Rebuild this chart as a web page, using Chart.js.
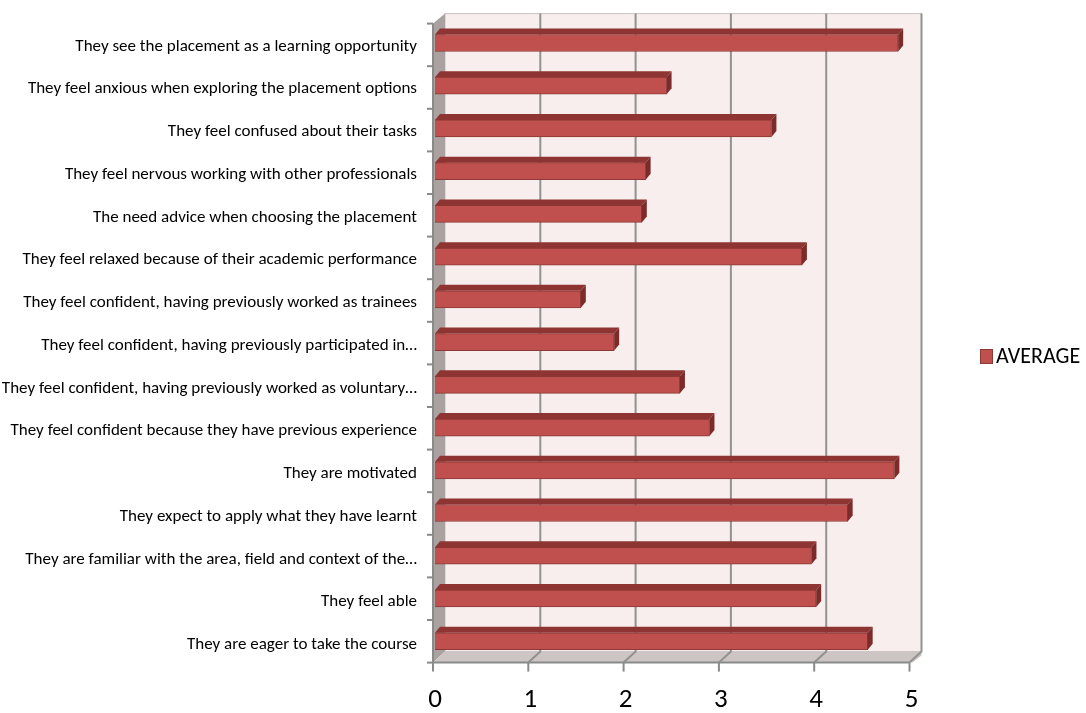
<!DOCTYPE html>
<html>
<head>
<meta charset="utf-8">
<script src="https://cdn.jsdelivr.net/npm/chart.js@4.4.0/dist/chart.umd.min.js"></script>
<style>
  html, body { margin: 0; padding: 0; background: #ffffff; }
  #wrap { width: 1086px; height: 713px; position: relative; }
</style>
</head>
<body>
<div id="wrap"><canvas id="c" width="1086" height="713"></canvas></div>
<script>
const categories = [
  "They see the placement as a learning opportunity",
  "They feel anxious when exploring the placement options",
  "They feel confused about their tasks",
  "They feel nervous working with other professionals",
  "The need advice when choosing the placement",
  "They feel relaxed because of their academic performance",
  "They feel confident, having previously worked as trainees",
  "They feel confident, having previously participated in…",
  "They feel confident, having previously worked as voluntary…",
  "They feel confident because they have previous experience",
  "They are motivated",
  "They expect to apply what they have learnt",
  "They are familiar with the area, field and context of the…",
  "They feel able",
  "They are eager to take the course"
];
const averageValues = [4.86, 2.43, 3.53, 2.21, 2.17, 3.85, 1.53, 1.88, 2.57, 2.88, 4.82, 4.33, 3.95, 4.00, 4.54];
const xTicks = [0, 1, 2, 3, 4, 5];
const seriesLabel = "AVERAGE";

const FONT = "Carlito, 'Liberation Sans', sans-serif";

const threeD = {
  id: 'threeD',
  beforeDatasetsDraw(chart) {
    const ctx = chart.ctx;
    const xs = chart.scales.x;
    const top = chart.chartArea.top, bottom = chart.chartArea.bottom;
    const front = v => xs.getPixelForValue(v) - 2;
    const back = v => front(v) + 12;
    const bTop = top - 8, bBot = bottom - 11;
    const minV = xTicks[0], maxV = xTicks[xTicks.length - 1];
    ctx.save();
    ctx.fillStyle = '#f7eeed';
    ctx.fillRect(back(minV), bTop, back(maxV) - back(minV), bBot - bTop);
    ctx.strokeStyle = '#c9c1c0';
    ctx.lineWidth = 1;
    ctx.strokeRect(back(minV), bTop, back(maxV) - back(minV), bBot - bTop);
    ctx.fillStyle = '#aaa2a0';
    ctx.beginPath();
    ctx.moveTo(front(minV), top + 2);
    ctx.lineTo(back(minV), bTop);
    ctx.lineTo(back(minV), bBot);
    ctx.lineTo(front(minV), bottom);
    ctx.closePath();
    ctx.fill();
    ctx.fillStyle = '#cdc5c4';
    ctx.beginPath();
    ctx.moveTo(front(minV), bottom);
    ctx.lineTo(back(minV), bBot);
    ctx.lineTo(back(maxV), bBot);
    ctx.lineTo(back(maxV), bBot + 4);
    ctx.lineTo(front(maxV) + 3, bottom);
    ctx.closePath();
    ctx.fill();
    ctx.strokeStyle = '#929292';
    ctx.lineWidth = 2;
    xTicks.forEach(v => {
      if (v === minV) return;
      ctx.beginPath();
      ctx.moveTo(back(v), bTop);
      ctx.lineTo(back(v), bBot);
      ctx.lineTo(front(v), bottom);
      ctx.stroke();
    });
    ctx.strokeStyle = '#8a8a8a';
    ctx.lineWidth = 2;
    ctx.beginPath();
    ctx.moveTo(front(minV), bottom);
    ctx.lineTo(front(maxV), bottom);
    ctx.stroke();
    xTicks.forEach(v => {
      ctx.beginPath();
      ctx.moveTo(front(v), bottom);
      ctx.lineTo(front(v), bottom + 9);
      ctx.stroke();
    });
    ctx.beginPath();
    ctx.moveTo(front(minV), top + 2);
    ctx.lineTo(front(minV), bottom);
    ctx.stroke();
    const n = categories.length;
    for (let i = 0; i <= n; i++) {
      const y = top + 2 + i * (bottom - top - 2) / n;
      ctx.beginPath();
      ctx.moveTo(front(minV) - 6, y);
      ctx.lineTo(front(minV), y);
      ctx.stroke();
    }
    ctx.restore();
  },
  afterDatasetsDraw(chart) {
    const ctx = chart.ctx;
    const meta = chart.getDatasetMeta(0);
    const dx = 5, dy = 6;
    ctx.save();
    meta.data.forEach(bar => {
      const p = bar.getProps(['x', 'y', 'base', 'height'], true);
      const t = p.y - p.height / 2, b = p.y + p.height / 2;
      ctx.fillStyle = '#8e3432';
      ctx.beginPath();
      ctx.moveTo(p.base, t);
      ctx.lineTo(p.base + dx, t - dy);
      ctx.lineTo(p.x + dx, t - dy);
      ctx.lineTo(p.x, t);
      ctx.closePath();
      ctx.fill();
      ctx.fillStyle = '#7b2b29';
      ctx.beginPath();
      ctx.moveTo(p.x, t);
      ctx.lineTo(p.x + dx, t - dy);
      ctx.lineTo(p.x + dx, b - dy);
      ctx.lineTo(p.x, b);
      ctx.closePath();
      ctx.fill();
    });
    ctx.restore();
  },
  afterDraw(chart) {
    const ctx = chart.ctx;
    ctx.save();
    ctx.fillStyle = '#c0504d';
    ctx.strokeStyle = '#8c3836';
    ctx.lineWidth = 1;
    ctx.fillRect(980, 349, 13, 15);
    ctx.strokeRect(980.5, 349.5, 12, 14);
    ctx.fillStyle = '#000000';
    ctx.font = "22px " + FONT;
    ctx.textBaseline = 'middle';
    ctx.textAlign = 'left';
    ctx.fillText(seriesLabel, 996, 357);
    ctx.restore();
  }
};

new Chart(document.getElementById('c'), {
  type: 'bar',
  data: {
    labels: categories,
    datasets: [{
      label: seriesLabel,
      data: averageValues,
      backgroundColor: '#c0504d',
      borderColor: '#8c3836',
      borderWidth: 1,
      barThickness: 17
    }]
  },
  options: {
    indexAxis: 'y',
    responsive: false,
    animation: false,
    devicePixelRatio: 1,
    layout: { padding: { top: 21.6, right: 174.5, left: 0, bottom: 0 } },
    plugins: { legend: { display: false }, tooltip: { enabled: false } },
    scales: {
      x: {
        min: 0, max: 5,
        afterBuildTicks: s => { s.ticks = xTicks.map(v => ({ value: v })); },
        afterFit: s => { s.height = 50.4; s.paddingLeft = 0; s.paddingRight = 0; },
        grid: { display: false, drawTicks: false },
        border: { display: false },
        ticks: { color: '#000', font: { family: FONT, size: 27 }, padding: 21 }
      },
      y: {
        afterFit: s => { s.width = 435; s.paddingTop = 0; s.paddingBottom = 0; },
        grid: { display: false, drawTicks: false },
        border: { display: false },
        ticks: { color: '#000', font: { family: FONT, size: 17 }, padding: 18, autoSkip: false, labelOffset: 3.5 }
      }
    }
  },
  plugins: [threeD]
});
</script>
</body>
</html>
